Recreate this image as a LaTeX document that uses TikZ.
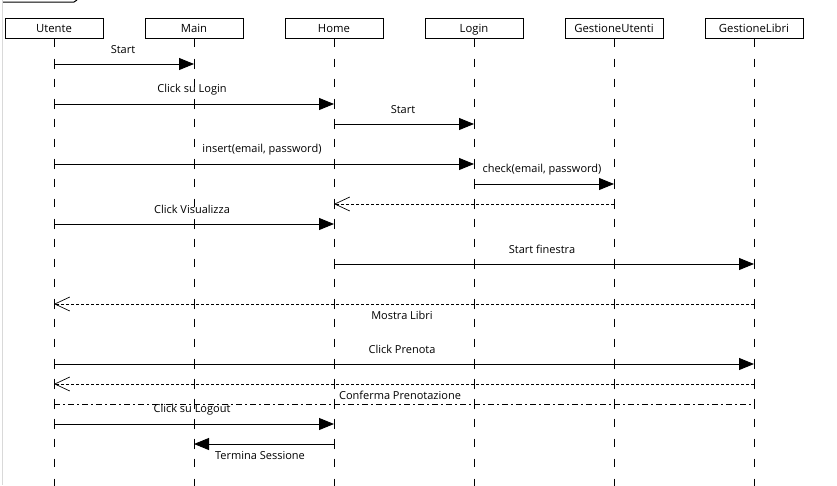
\documentclass[tikz,border=0pt]{standalone}
\usepackage{fontspec}
\setmainfont{Open Sans}
\usetikzlibrary{arrows.meta}
\begin{document}
\begin{tikzpicture}[x=1pt,y=-1pt,
  obj/.style={draw,line width=1pt,minimum width=98pt,minimum height=20pt,inner sep=0pt,text height=10.5pt,text depth=1.5pt,font=\fontsize{11.3}{12}\selectfont},
  life/.style={line width=1pt,dash pattern=on 8pt off 12pt},
  msg/.style={line width=0.9pt,-{Triangle[length=15pt,width=12pt]}},
  ret/.style={line width=0.9pt,dash pattern=on 3pt off 2pt,-{Straight Barb[length=15pt,width=14pt,line width=0.7pt]}},
  lbl/.style={font=\fontsize{11}{12}\selectfont,inner sep=0pt}]
\useasboundingbox (0,0) rectangle (837,485);
\fill[white] (0,0) rectangle (837,485);
\draw[black!15,line width=1pt] (2.5,0) -- (2.5,485);
\draw[line width=1pt] (3,2) -- (74,2) -- (77,0);
% objects
\foreach \n/\x/\t in {u/54/Utente,m/194/Main,h/334/Home,l/474/Login,gu/614/GestioneUtenti,gl/754/GestioneLibri}{
  \node[obj] (\n) at (\x,28) {\t};
  \coordinate (\n end) at (\x,490);
  \draw[life] (\n.south) -- (\n end);
}
% message anchor coordinates
\foreach \n/\x in {u/54,m/194,h/334,l/474,gu/614,gl/754}{
  \foreach \y in {64,104,124,164,184,204,224,264,304,364,384,404,424,444}{
    \coordinate (\n\y) at (\x,\y);
  }
}
\draw[msg] (u64) -- (m64);
\node[lbl] (t1) at (123,49.5) {Start};
\draw[msg] (u104) -- (h104);
\node[lbl] (t2) at (192,89.5) {Click su Login};
\draw[msg] (h124) -- (l124);
\node[lbl] (t3) at (403,109.5) {Start};
\draw[msg] (u164) -- (l164);
\node[lbl] (t4) at (262,149.5) {insert(email, password)};
\draw[msg] (l184) -- (gu184);
\node[lbl] (t5) at (542,169.5) {check(email, password)};
\draw[ret] (gu204) -- (h204);
\draw[msg] (u224) -- (h224);
\node[lbl] (t6) at (192,209.5) {Click Visualizza};
\draw[msg] (h264) -- (gl264);
\node[lbl] (t7) at (542,249.5) {Start finestra};
\draw[ret] (gl304) -- (u304);
\node[lbl] (t8) at (402,315.5) {Mostra Libri};
\draw[msg] (u364) -- (gl364);
\node[lbl] (t9) at (402,349.5) {Click Prenota};
\draw[ret] (gl384) -- (u384);
\node[lbl] (t10) at (400,395.5) {Conferma Prenotazione};
\draw[line width=0.9pt,dash pattern=on 6pt off 3pt on 2pt off 3pt] (u404) -- (gl404);
\draw[msg] (u424) -- (h424);
\node[lbl] (t11) at (192,409.5) {Click su Logout};
\draw[msg] (h444) -- (m444);
\node[lbl] (t12) at (260,455.5) {Termina Sessione};
% tick marks at lifeline crossings
\foreach \c in {u64,m64,u104,m104,h104,h124,l124,u164,m164,h164,l164,l184,gu184,h204,l204,gu204,u224,m224,h224,h264,l264,gu264,gl264,u304,m304,h304,l304,gu304,gl304,u364,m364,h364,l364,gu364,gl364,u384,m384,h384,l384,gu384,gl384,u404,m404,h404,l404,gu404,gl404,u424,m424,h424,m444,h444}{
  \draw[line width=1pt] ([yshift=-5pt]\c) -- ([yshift=5pt]\c);
}
\end{tikzpicture}
\end{document}
